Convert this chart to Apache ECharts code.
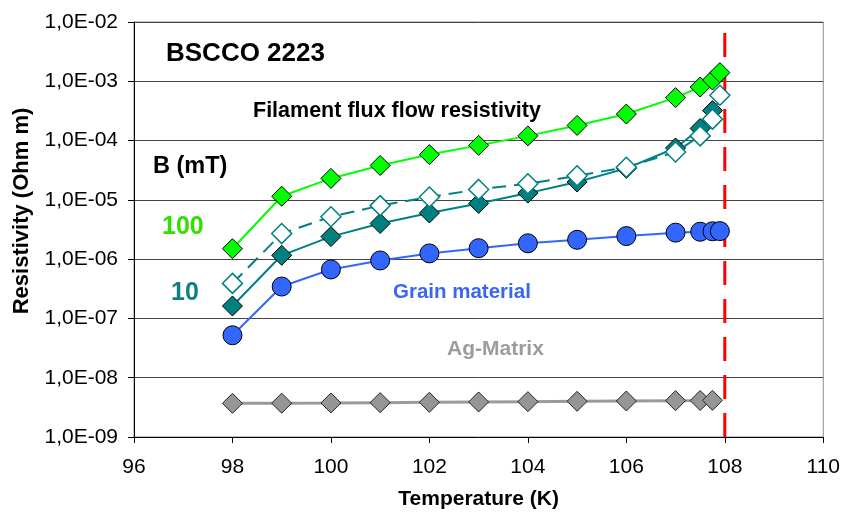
<!DOCTYPE html>
<html>
<head>
<meta charset="utf-8">
<script src="https://cdn.jsdelivr.net/npm/echarts@6/dist/echarts.min.js"></script>
<style>
  html, body { margin: 0; padding: 0; background: #fff; }
  #chart { width: 843px; height: 516px; }
</style>
</head>
<body>
<div id="chart"></div>
<script>
// Temperature points (K)
var temps = [98, 99, 100, 101, 102, 103, 104, 105, 106, 107, 107.5, 107.75, 107.9];

// Filament flux flow resistivity, B = 100 mT
var flux100 = [1.5e-6, 1.15e-5, 2.3e-5, 3.8e-5, 5.8e-5, 8.3e-5, 1.2e-4, 1.8e-4, 2.8e-4, 5.3e-4, 8.0e-4, 1.05e-3, 1.4e-3];
// Filament flux flow resistivity, B = 10 mT
var flux10 = [1.62e-7, 1.16e-6, 2.4e-6, 4.0e-6, 6.0e-6, 8.7e-6, 1.3e-5, 2.0e-5, 3.4e-5, 7.5e-5, 1.6e-4, 3.2e-4];
// Filament flux flow resistivity, B = 10 mT (open markers, dashed)
var flux10b = [3.9e-7, 2.7e-6, 5.2e-6, 8.0e-6, 1.12e-5, 1.5e-5, 1.87e-5, 2.55e-5, 3.55e-5, 6.4e-5, 1.2e-4, 2.3e-4, 5.8e-4];
// Grain material
var grain = [5.2e-8, 3.45e-7, 6.7e-7, 9.5e-7, 1.25e-6, 1.53e-6, 1.85e-6, 2.12e-6, 2.45e-6, 2.8e-6, 2.9e-6, 2.95e-6, 2.97e-6];
// Ag matrix
var agMatrix = [3.7e-9, 3.72e-9, 3.75e-9, 3.8e-9, 3.85e-9, 3.9e-9, 3.95e-9, 4.0e-9, 4.05e-9, 4.1e-9, 4.12e-9, 4.15e-9];

// Critical temperature marker
var tcLine = [[108, 1e-9], [108, 1e-2]];

var FONT = '"Liberation Sans", Arial, sans-serif';

function pairs(xs, ys) {
  return ys.map(function (v, i) { return [xs[i], v]; });
}

function sciLabel(v) {
  var e = Math.round(Math.log10(v));
  var a = Math.abs(e);
  return '1,0E' + (e < 0 ? '-' : '+') + (a < 10 ? '0' + a : '' + a);
}

var chart = echarts.init(document.getElementById('chart'), null, { renderer: 'canvas' });

function lbl(text, x, y, size, color) {
  return {
    type: 'text', x: x, y: y, z: 100,
    style: { text: text, fill: color, font: 'bold ' + size + 'px ' + FONT, verticalAlign: 'middle', align: 'left' }
  };
}

chart.setOption({
  animation: false,
  backgroundColor: '#fff',
  grid: { left: 134, right: 19, top: 22, bottom: 79, show: true, borderColor: '#8c8c8c', borderWidth: 1, backgroundColor: 'transparent' },
  xAxis: {
    type: 'value', min: 96, max: 110, interval: 2,
    axisLine: { show: true, onZero: false, lineStyle: { color: '#000', width: 1 } },
    axisTick: { show: true, inside: false, length: 6, lineStyle: { color: '#000' } },
    axisLabel: { color: '#000', fontFamily: FONT, fontSize: 21, margin: 20 },
    splitLine: { show: false },
    name: 'Temperature (K)', nameLocation: 'middle', nameGap: 52,
    nameTextStyle: { color: '#000', fontFamily: FONT, fontSize: 21, fontWeight: 'bold' }
  },
  yAxis: {
    type: 'log', logBase: 10, min: 1e-9, max: 1e-2,
    axisLine: { show: true, lineStyle: { color: '#000', width: 1 } },
    axisTick: { show: true, inside: false, length: 6, lineStyle: { color: '#000' } },
    axisLabel: { color: '#000', fontFamily: FONT, fontSize: 21, margin: 16, formatter: sciLabel },
    splitLine: { show: true, showMaxLine: false, showMinLine: false, lineStyle: { color: '#444', width: 1 } },
    minorTick: { show: false }
  },
  graphic: [
    {
      type: 'text', x: 22, y: 211, rotation: Math.PI / 2, z: 100,
      style: { text: 'Resistivity (Ohm m)', fill: '#000', font: 'bold 22px ' + FONT, align: 'center', verticalAlign: 'middle' }
    },
    lbl('BSCCO 2223', 166, 54, 26, '#000'),
    lbl('Filament flux flow resistivity', 253, 111, 21.5, '#000'),
    lbl('B (mT)', 153, 167, 23.5, '#000'),
    lbl('100', 162, 227, 25, '#2fe000'),
    lbl('10', 171, 293, 25, '#0f7f7f'),
    lbl('Grain material', 393, 292, 20.5, '#3a66f0'),
    lbl('Ag-Matrix', 447, 349, 21, '#9c9c9c')
  ],
  series: [
    {
      name: 'Tc', type: 'line', data: tcLine, symbol: 'none', z: 1,
      lineStyle: { color: '#ff0000', width: 3, type: [24, 14] }
    },
    {
      name: 'Ag-Matrix', type: 'line', data: pairs(temps, agMatrix), z: 2,
      symbol: 'diamond', symbolSize: 20,
      lineStyle: { color: '#9a9a9a', width: 3 },
      itemStyle: { color: '#969696', borderColor: '#222', borderWidth: 1 }
    },
    {
      name: 'Grain material', type: 'line', data: pairs(temps, grain), z: 3,
      symbol: 'circle', symbolSize: 19,
      lineStyle: { color: '#3366ff', width: 2 },
      itemStyle: { color: '#3366ff', borderColor: '#000', borderWidth: 1 }
    },
    {
      name: '10 mT', type: 'line', data: pairs(temps, flux10), z: 4,
      symbol: 'diamond', symbolSize: 20,
      lineStyle: { color: '#008080', width: 2 },
      itemStyle: { color: '#008080', borderColor: '#000', borderWidth: 1 }
    },
    {
      name: '10 mT (b)', type: 'line', data: pairs(temps, flux10b), z: 5,
      symbol: 'diamond', symbolSize: 20,
      lineStyle: { color: '#008080', width: 2, type: [14, 8] },
      itemStyle: { color: '#ffffff', borderColor: '#008080', borderWidth: 1.5 }
    },
    {
      name: '100 mT', type: 'line', data: pairs(temps, flux100), z: 6,
      symbol: 'diamond', symbolSize: 20,
      lineStyle: { color: '#00ff00', width: 2 },
      itemStyle: { color: '#00ff00', borderColor: '#000', borderWidth: 1 }
    }
  ]
});
</script>
</body>
</html>
